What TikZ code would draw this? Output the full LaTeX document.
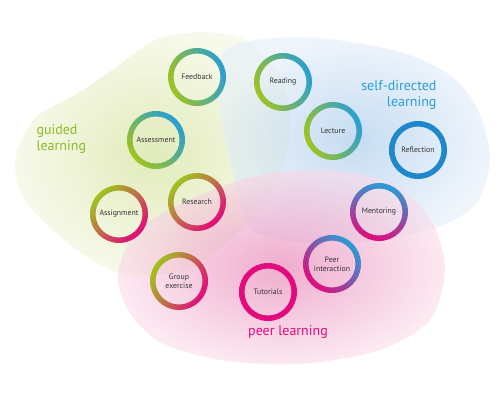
\documentclass[tikz,border=0pt]{standalone}
\usepackage{fontspec}
\setmainfont{PT Sans}
\usepackage{tikz}

\definecolor{lgreen}{RGB}{160,196,30}
\definecolor{lblue}{RGB}{40,158,214}
\definecolor{dblue}{RGB}{30,136,202}
\definecolor{lpink}{RGB}{226,10,124}
\definecolor{tgreen}{RGB}{140,186,40}
\definecolor{gin}{RGB}{205,222,140}
\definecolor{gout}{RGB}{242,246,222}
\definecolor{bin}{RGB}{160,196,233}
\definecolor{bout}{RGB}{228,238,249}
\definecolor{pin}{RGB}{228,118,174}
\definecolor{pout}{RGB}{250,218,232}

\tikzset{
	ringlabel/.style={font=\fontsize{7.8}{8.8}\selectfont, text=black!80, align=center},
	grouplabel/.style={font=\fontsize{14}{15.5}\selectfont}
}

\begin{document}
\begin{tikzpicture}[x=1pt,y=-1pt]
	\useasboundingbox (0,0) rectangle (500,400);

	% blobs
	\shade[inner color=gin, outer color=gout, fill opacity=0.6] plot[smooth cycle] coordinates {
	(15,160) (35,118) (75,95) (115,68) (155,40) (200,32) (245,40) (280,75)
	(290,130) (275,185) (235,235) (185,270) (120,273) (70,245) (25,200)};
	\shade[inner color=bin, outer color=bout, fill opacity=0.6] plot[smooth cycle] coordinates {
	(222,55) (255,40) (320,38) (400,52) (450,75) (478,110) (490,160)
	(475,205) (435,228) (380,240) (300,242) (250,228) (232,170) (220,110)};
	\shade[inner color=pin, outer color=pout, fill opacity=0.6] plot[smooth cycle] coordinates {
	(118,272) (140,228) (200,195) (260,175) (330,170) (395,185) (432,222)
	(445,270) (430,320) (380,350) (300,364) (220,360) (160,342) (128,310)};

	% rings
	\foreach \n/\px/\py/\ca/\cb/\ang/\txt in {
	feedback/197/77/lgreen/lblue/110/{Feedback},
	reading/283/82/lgreen/lblue/115/{Reading},
	assessment/156/140/lgreen/lblue/130/{Assessment},
	lecture/333/131/lgreen/lblue/115/{Lecture},
	reflection/418/150/dblue/dblue/0/{Reflection},
	research/197/202/lgreen/lpink/45/{Research},
	assignment/119/214/lgreen/lpink/45/{Assignment},
	mentoring/379/212/lblue/lpink/-15/{Mentoring},
	group/179/281/lgreen/lpink/60/{Group\\exercise},
	peer/332/264/lblue/lpink/-45/{Peer\\interaction},
	tutorials/268/292/lpink/lpink/0/{Tutorials}}
	{
		\shade[even odd rule, top color=\ca, bottom color=\cb, shading angle=\ang]
			(\px,\py) circle [radius=29] circle [radius=23.5];
		\node[ringlabel] (\n) at (\px,\py) {\txt};
	};

	% group labels
	\node[grouplabel, text=tgreen, align=left, anchor=west] (guided) at (33,139) {guided\\learning};
	\node[grouplabel, text=lblue, align=right, anchor=east] (selfdir) at (440,95) {self-directed\\learning};
	\node[grouplabel, text=lpink] (peerl) at (288,332) {peer learning};
\end{tikzpicture}
\end{document}
